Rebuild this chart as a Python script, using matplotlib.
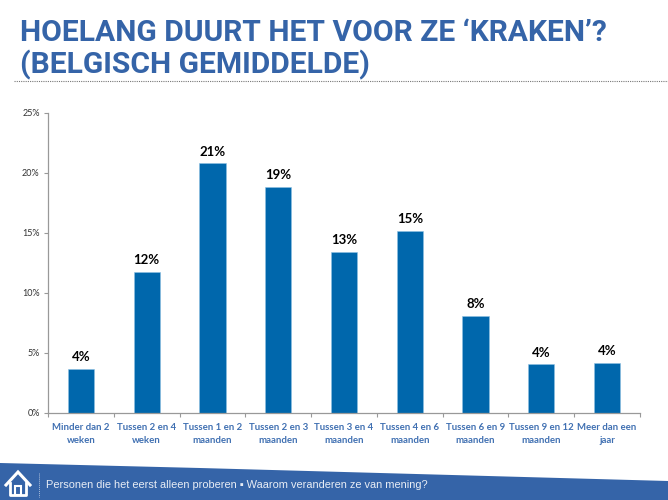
import matplotlib
matplotlib.use('Agg')
import matplotlib.pyplot as plt
from matplotlib.patches import Polygon, Rectangle
from matplotlib.lines import Line2D

categories = ['Minder dan 2\nweken', 'Tussen 2 en 4\nweken', 'Tussen 1 en 2\nmaanden',
              'Tussen 2 en 3\nmaanden', 'Tussen 3 en 4\nmaanden', 'Tussen 4 en 6\nmaanden',
              'Tussen 6 en 9\nmaanden', 'Tussen 9 en 12\nmaanden', 'Meer dan een\njaar']
values = [3.7, 11.75, 20.8, 18.85, 13.45, 15.2, 8.1, 4.05, 4.2]
y_ticks = [0, 5, 10, 15, 20, 25]
title_lines = ['HOELANG DUURT HET VOOR ZE ‘KRAKEN’?', '(BELGISCH GEMIDDELDE)']
footer = 'Personen die het eerst alleen proberen ▪ Waarom veranderen ze van mening?'

W, H = 668, 500
blue = '#3564a8'
bar_blue = '#0067ac'

plt.rcParams['font.family'] = ['Lato', 'DejaVu Sans']
fig = plt.figure(figsize=(W / 100, H / 100), dpi=100)

# overlay in pixel coordinates for the slide furniture
bg = fig.add_axes([0, 0, 1, 1])
bg.set_xlim(0, W)
bg.set_ylim(H, 0)
bg.axis('off')

title_font = ['Roboto', 'DejaVu Sans']
bg.text(20, 33, title_lines[0], color=blue, fontsize=21.6, fontweight='bold', va='center', ha='left', family=title_font)
bg.text(20, 65, title_lines[1], color=blue, fontsize=21.6, fontweight='bold', va='center', ha='left', family=title_font)
bg.add_line(Line2D([14, 668], [81, 81], color='#777777', lw=0.8, ls=(0, (1, 1))))

# footer band with slanted top edge
bg.add_patch(Polygon([(0, 463), (200, 468), (668, 481), (668, 500), (0, 500)], closed=True,
                     fc=blue, ec='none'))
bg.add_line(Line2D([38.5, 38.5], [473, 497], color='#a9bcd9', lw=0.7, ls=(0, (1, 1))))
bg.text(46, 485, footer, color='#e8edf5', fontsize=7.9, family=['Liberation Sans', 'DejaVu Sans'],
        va='center', ha='left')

# home icon
bg.add_line(Line2D([6, 18, 30], [485, 472, 485], color='white', lw=2.2, solid_joinstyle='miter'))
bg.add_line(Line2D([10, 10, 26, 26], [483, 495, 495, 483], color='white', lw=2))
bg.add_patch(Rectangle((15, 486), 6, 9, fc='none', ec='white', lw=1.5))

ax = fig.add_axes([48 / W, (H - 413) / H, (640 - 48) / W, 300 / H])
positions = list(range(len(categories)))
ax.bar(positions, values, width=0.4, color=bar_blue, edgecolor='#8fc1e3', linewidth=0.4)
ax.set_xlim(-0.5, len(categories) - 0.5)
ax.set_ylim(0, 25)
ax.set_yticks(y_ticks)
ax.set_yticklabels([f'{v}%' for v in y_ticks], fontsize=6.5, color='#333333')
ax.set_xticks([p - 0.5 for p in positions] + [len(categories) - 0.5])
ax.set_xticklabels([])
ax.tick_params(axis='both', length=3, width=0.8, color='#999999', pad=3)
ax.tick_params(axis='y', direction='out')
for s in ['top', 'right']:
    ax.spines[s].set_visible(False)
for s in ['left', 'bottom']:
    ax.spines[s].set_color('#999999')
    ax.spines[s].set_linewidth(0.9)

for p, v, c in zip(positions, values, categories):
    ax.annotate(f'{round(v)}%', (p, v), xytext=(0, 4), textcoords='offset points', ha='center',
                va='bottom', fontsize=9.5, fontweight='bold', color='black')
    ax.annotate(c, (p, 0), xytext=(0, -7), textcoords='offset points', ha='center', va='top',
                fontsize=6.9, fontweight='bold', color='#4070b2', linespacing=1.55,
                annotation_clip=False)

fig.savefig('out.png', dpi=100)
